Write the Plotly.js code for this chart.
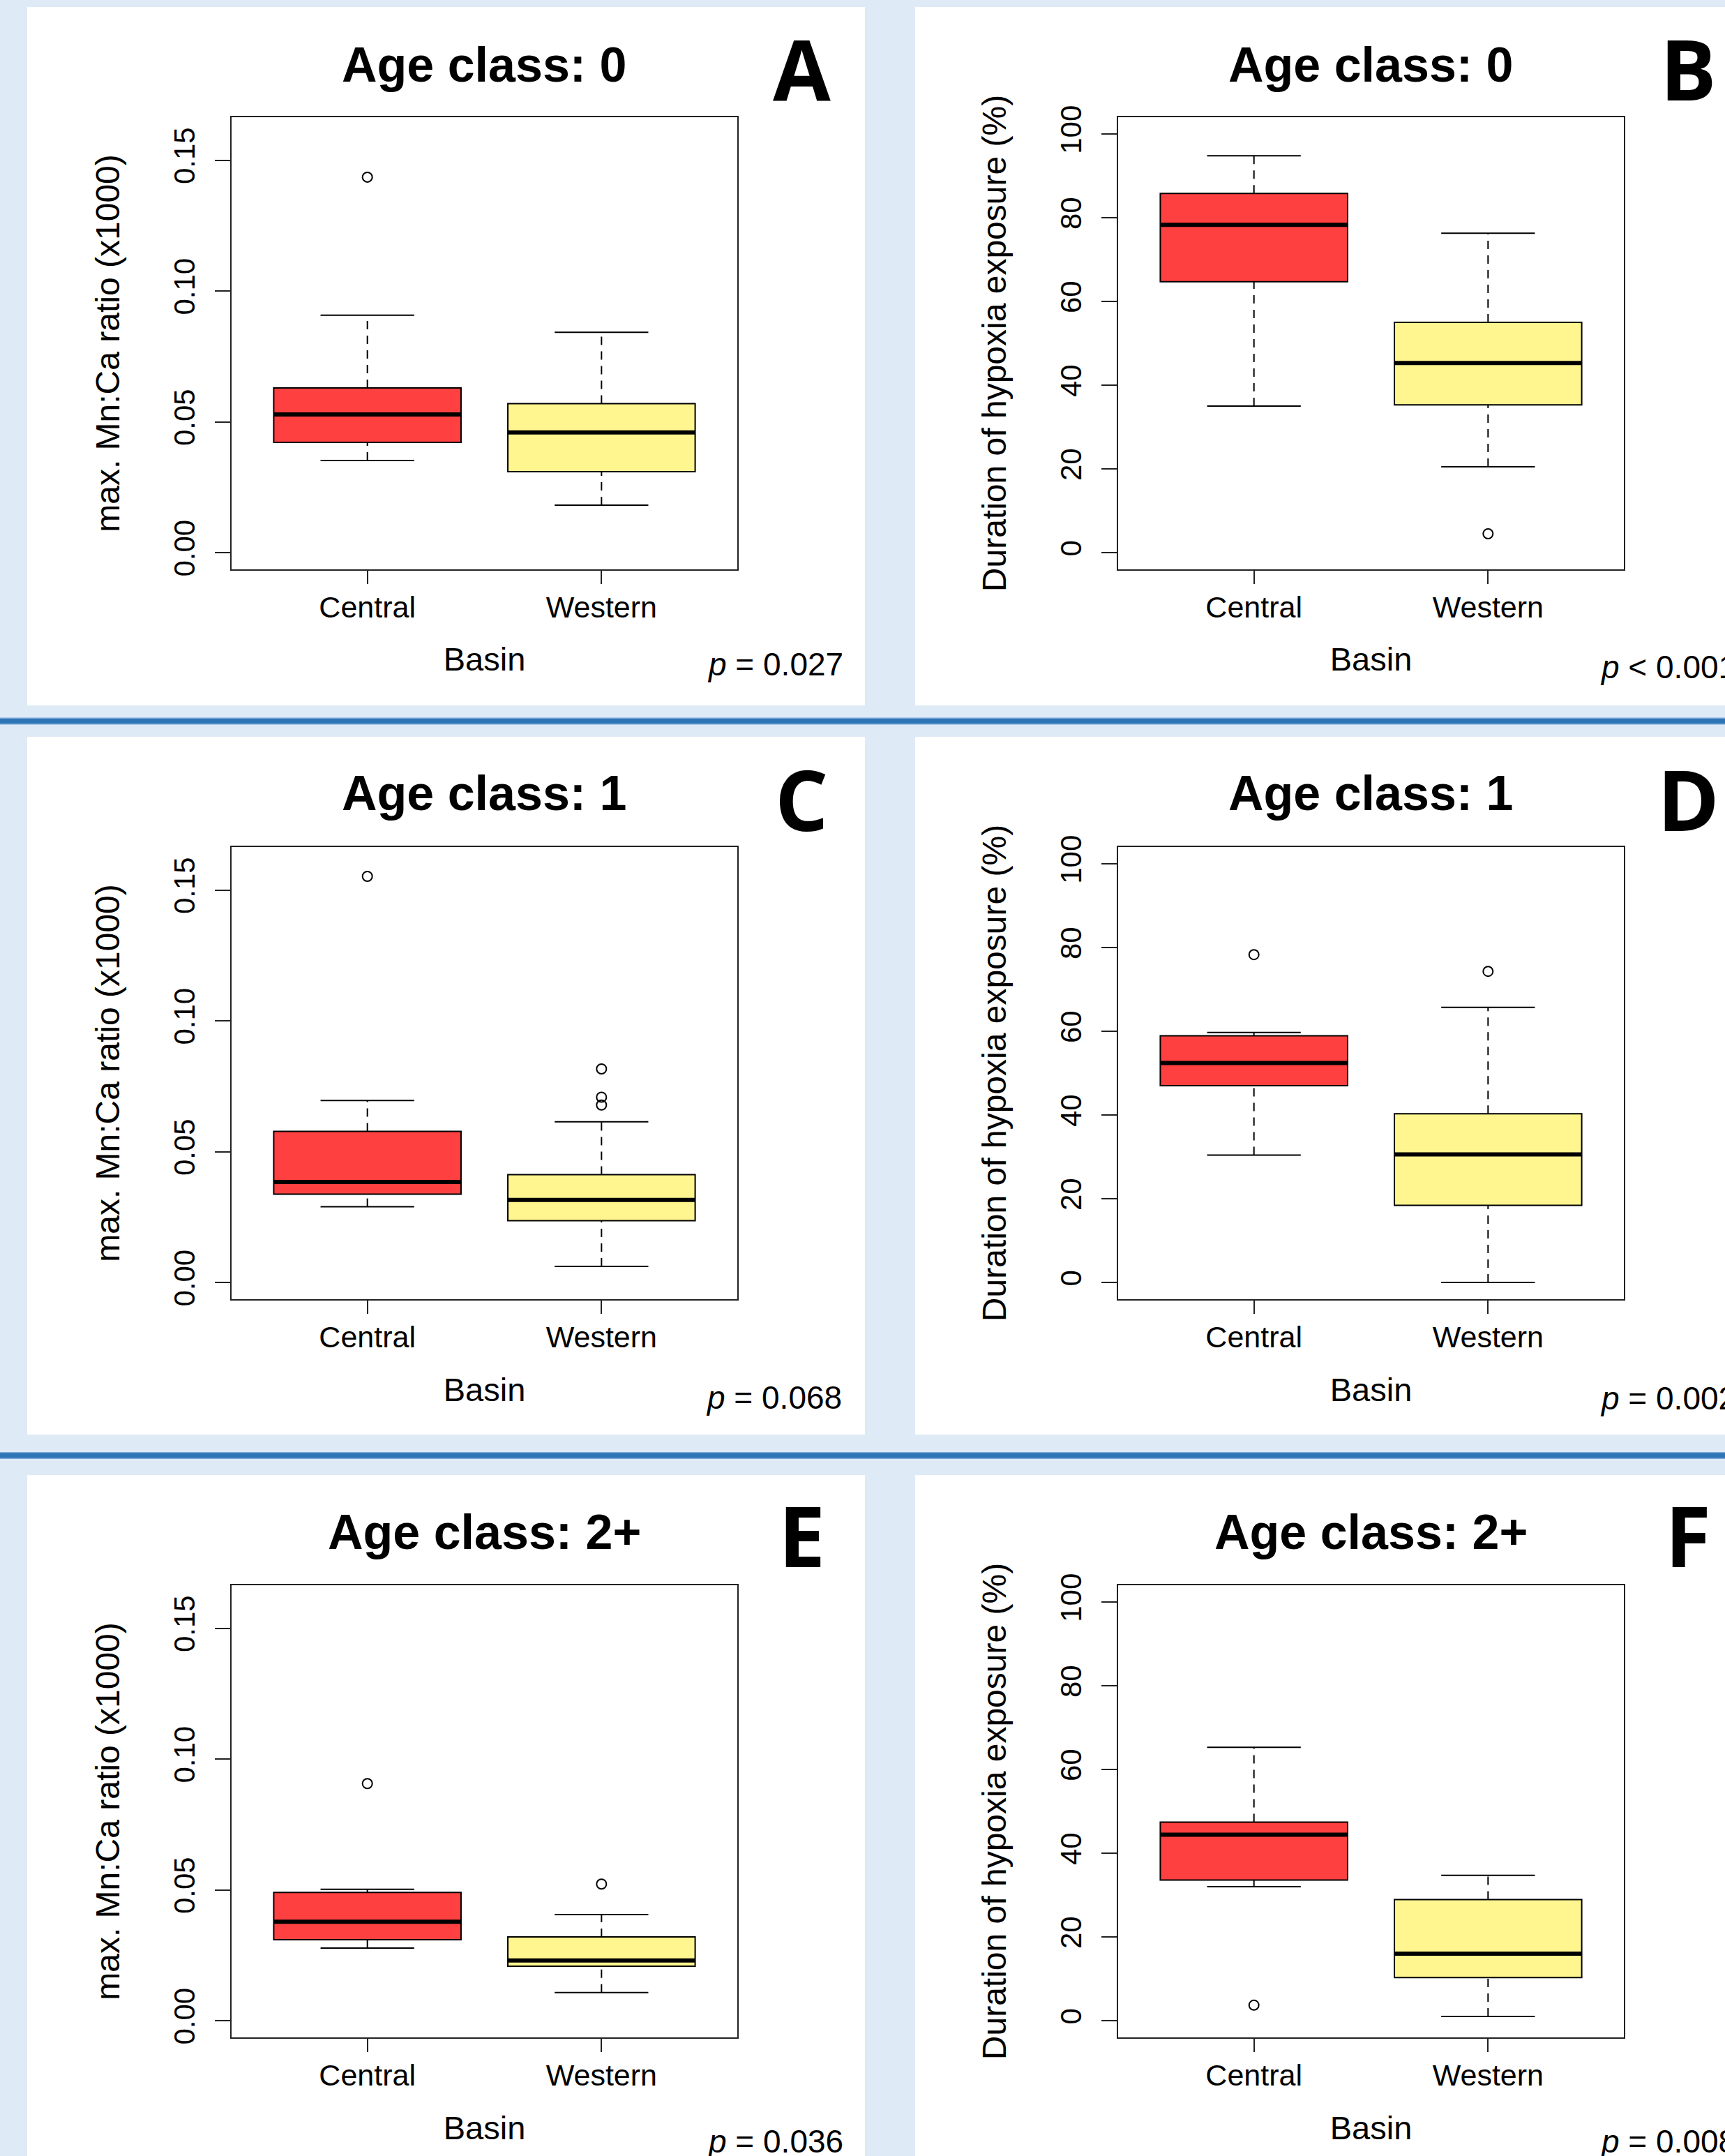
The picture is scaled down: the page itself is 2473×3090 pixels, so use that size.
<!DOCTYPE html>
<html><head><meta charset="utf-8">
<script src="https://cdn.plot.ly/plotly-3.0.1.min.js"></script>
<style>html,body{margin:0;padding:0;background:#deeaf6;} #chart{width:2473px;height:3090px;}</style>
</head><body><div id="chart"></div>
<script>
// ---------------- data ----------------
const basins = ['Central', 'Western'];
const statOrder = ['lower whisker', 'Q1', 'median', 'Q3', 'upper whisker'];
const ageClasses = ['0', '1', '2+'];
const panelLetters = ['A', 'B', 'C', 'D', 'E', 'F'];
const pValues = ['= 0.027', '< 0.001', '= 0.068', '= 0.002', '= 0.036', '= 0.008'];

// max. Mn:Ca ratio (x1000)
const mnca_age0_central = [0.0352, 0.0421, 0.0528, 0.0629, 0.0907];
const mnca_age0_western = [0.0181, 0.0309, 0.0459, 0.0569, 0.0842];
const mnca_age0_central_out = [0.1435];
const mnca_age0_western_out = [];
const mnca_age1_central = [0.0289, 0.0337, 0.0384, 0.0577, 0.0695];
const mnca_age1_western = [0.0061, 0.0236, 0.0315, 0.0412, 0.0614];
const mnca_age1_central_out = [0.1552];
const mnca_age1_western_out = [0.0816, 0.0708, 0.0678];
const mnca_age2_central = [0.0277, 0.0309, 0.0378, 0.0490, 0.0502];
const mnca_age2_western = [0.0107, 0.0208, 0.0230, 0.0320, 0.0405];
const mnca_age2_central_out = [0.0906];
const mnca_age2_western_out = [0.0522];

// Duration of hypoxia exposure (%)
const hyp_age0_central = [35.0, 64.7, 78.3, 85.8, 94.8];
const hyp_age0_western = [20.5, 35.3, 45.3, 55.0, 76.3];
const hyp_age0_central_out = [];
const hyp_age0_western_out = [4.5];
const hyp_age1_central = [30.4, 47.0, 52.4, 58.9, 59.7];
const hyp_age1_western = [0.0, 18.4, 30.6, 40.3, 65.7];
const hyp_age1_central_out = [78.3];
const hyp_age1_western_out = [74.3];
const hyp_age2_central = [32.0, 33.6, 44.4, 47.4, 65.3];
const hyp_age2_western = [1.0, 10.3, 16.0, 28.9, 34.7];
const hyp_age2_central_out = [3.7];
const hyp_age2_western_out = [];

const mncaTicks = [0, 0.05, 0.10, 0.15];
const mncaTickLabels = ['0.00', '0.05', '0.10', '0.15'];
const mncaLimits = [0, 0.16];
const hypTicks = [0, 20, 40, 60, 80, 100];
const hypTickLabels = ['0', '20', '40', '60', '80', '100'];
const hypLimits = [0, 100];

const mncaTitle = 'max. Mn:Ca ratio (x1000)';
const hypTitle = 'Duration of hypoxia exposure (%)';
const xTitle = 'Basin';

// ---------------- layout / style ----------------
const W = 2473, H = 3090;
const FONT = 'Liberation Sans, Arial, Helvetica, sans-serif';
const LETTER_FONT = 'Open Sans, DejaVu Sans, sans-serif';
const boxColors = ['#FF4040', '#FFF68F'];
const BOXWEX = 0.8, STAPLE = 0.4;
const colLeft = [332, 1603];
const plotW = 725;
const rowTop = [168, 1214, 2272];
const rowBot = [816, 1862, 2920];
const titleY = [93, 1137, 2196];
const letterY = [97, 1144, 2199];
const pY = [[952, 956], [2003, 2004], [3069, 3069]];
const pX = [[1012, 2292], [1010, 2292], [1012, 2292]];
const panelRects = { x: [[39, 1240], [1312, 2480]], y: [[10, 1011], [1056, 2056], [2114, 3100]] };
const sepY = [1033.5, 2086];

const px2x = p => p / W;
const px2y = p => 1 - p / H;

function rExtend(lim) { const d = (lim[1] - lim[0]) * 0.04; return [lim[0] - d, lim[1] + d]; }

const panels = [
  { c: mnca_age0_central, w: mnca_age0_western, co: mnca_age0_central_out, wo: mnca_age0_western_out, kind: 'mnca', age: 0 },
  { c: hyp_age0_central, w: hyp_age0_western, co: hyp_age0_central_out, wo: hyp_age0_western_out, kind: 'hyp', age: 0 },
  { c: mnca_age1_central, w: mnca_age1_western, co: mnca_age1_central_out, wo: mnca_age1_western_out, kind: 'mnca', age: 1 },
  { c: hyp_age1_central, w: hyp_age1_western, co: hyp_age1_central_out, wo: hyp_age1_western_out, kind: 'hyp', age: 1 },
  { c: mnca_age2_central, w: mnca_age2_western, co: mnca_age2_central_out, wo: mnca_age2_western_out, kind: 'mnca', age: 2 },
  { c: hyp_age2_central, w: hyp_age2_western, co: hyp_age2_central_out, wo: hyp_age2_western_out, kind: 'hyp', age: 2 }
];

const traces = [];
const lineTraces = [];
const layout = {
  width: W, height: H,
  margin: { l: 0, r: 0, t: 0, b: 0, pad: 0 },
  paper_bgcolor: '#deeaf6',
  plot_bgcolor: '#ffffff',
  showlegend: false,
  boxmode: 'overlay',
  font: { family: FONT, color: '#000' },
  shapes: [],
  annotations: []
};

// white panels
panelRects.y.forEach(yy => panelRects.x.forEach(xx => {
  layout.shapes.push({ type: 'rect', xref: 'paper', yref: 'paper', layer: 'below',
    x0: px2x(xx[0]), x1: px2x(xx[1]), y0: px2y(yy[1]), y1: px2y(yy[0]),
    fillcolor: '#ffffff', line: { width: 0 } });
}));
// blue separators
sepY.forEach(y => {
  layout.shapes.push({ type: 'line', xref: 'paper', yref: 'paper', layer: 'below',
    x0: 0, x1: 1, y0: px2y(y), y1: px2y(y), line: { color: '#7fa9d8', width: 10 } });
  layout.shapes.push({ type: 'line', xref: 'paper', yref: 'paper', layer: 'below',
    x0: 0, x1: 1, y0: px2y(y), y1: px2y(y), line: { color: '#2e75b6', width: 7 } });
});

panels.forEach((p, k) => {
  const row = Math.floor(k / 2), col = k % 2;
  const s = k === 0 ? '' : String(k + 1);
  const xa = 'x' + s, ya = 'y' + s;
  const groups = [p.c, p.w], outs = [p.co, p.wo];
  groups.forEach((v, gi) => {
    const xi = gi + 1;
    traces.push({
      type: 'box', xaxis: xa, yaxis: ya, name: basins[gi],
      x: [xi], q1: [v[1]], median: [v[2]], q3: [v[3]],
      lowerfence: [v[1]], upperfence: [v[3]],
      width: BOXWEX, whiskerwidth: 0, boxpoints: false,
      fillcolor: boxColors[gi], line: { color: '#000', width: 2 },
      hoverinfo: 'skip'
    });
    // whiskers (dashed)
    lineTraces.push({ type: 'scatter', mode: 'lines', xaxis: xa, yaxis: ya,
      x: [xi, xi, null, xi, xi], y: [v[0], v[1], null, v[3], v[4]],
      line: { color: '#000', width: 2, dash: '12px,9px' }, hoverinfo: 'skip' });
    // staples
    lineTraces.push({ type: 'scatter', mode: 'lines', xaxis: xa, yaxis: ya,
      x: [xi - STAPLE / 2, xi + STAPLE / 2, null, xi - STAPLE / 2, xi + STAPLE / 2],
      y: [v[0], v[0], null, v[4], v[4]],
      line: { color: '#000', width: 2 }, hoverinfo: 'skip' });
    // median
    lineTraces.push({ type: 'scatter', mode: 'lines', xaxis: xa, yaxis: ya,
      x: [xi - BOXWEX / 2, xi + BOXWEX / 2], y: [v[2], v[2]],
      line: { color: '#000', width: 6 }, hoverinfo: 'skip' });
    // outliers
    if (outs[gi].length) {
      lineTraces.push({ type: 'scatter', mode: 'markers', xaxis: xa, yaxis: ya,
        x: outs[gi].map(() => xi), y: outs[gi],
        marker: { symbol: 'circle-open', size: 14, color: '#000', line: { width: 2 } }, hoverinfo: 'skip' });
    }
  });

  const isM = p.kind === 'mnca';
  const left = colLeft[col];
  layout['xaxis' + s] = {
    domain: [px2x(left), px2x(left + plotW)], anchor: ya,
    range: [0.42, 2.58], tickmode: 'array', tickvals: [1, 2], ticktext: basins,
    ticks: 'outside', ticklen: 19, tickwidth: 2, tickcolor: '#222',
    showline: true, mirror: true, linewidth: 2, linecolor: '#222',
    showgrid: false, zeroline: false, fixedrange: true,
    tickfont: { family: FONT, size: 43, color: '#000' }, ticklabelstandoff: -4,
    title: { text: xTitle, font: { family: FONT, size: 47, color: '#000' }, standoff: 36 }
  };
  layout['yaxis' + s] = {
    domain: [px2y(rowBot[row]), px2y(rowTop[row])], anchor: xa,
    range: rExtend(isM ? mncaLimits : hypLimits),
    tickmode: 'array', tickvals: isM ? mncaTicks : hypTicks, ticktext: isM ? mncaTickLabels : hypTickLabels,
    tickangle: -90,
    ticks: 'outside', ticklen: 22, tickwidth: 2, tickcolor: '#222',
    showline: true, mirror: true, linewidth: 2, linecolor: '#222',
    showgrid: false, zeroline: false, fixedrange: true,
    tickfont: { family: FONT, size: 42, color: '#000' }, ticklabelstandoff: 12,
    title: { text: isM ? mncaTitle : hypTitle, font: { family: FONT, size: 48, color: '#000' }, standoff: 54 }
  };

  // subplot title
  layout.annotations.push({ xref: 'paper', yref: 'paper', showarrow: false,
    x: px2x(left + plotW / 2), y: px2y(titleY[row]), xanchor: 'center', yanchor: 'middle',
    text: '<b>Age class: ' + ageClasses[p.age] + '</b>', font: { family: FONT, size: 70, color: '#000' } });
  // panel letter
  layout.annotations.push({ xref: 'paper', yref: 'paper', showarrow: false,
    x: px2x(left + 817), y: px2y(letterY[row]), xanchor: 'center', yanchor: 'middle',
    text: '<b>' + panelLetters[k] + '</b>', font: { family: LETTER_FONT, size: 120, color: '#000' } });
  // p-value
  layout.annotations.push({ xref: 'paper', yref: 'paper', showarrow: false,
    x: px2x(pX[row][col]), y: px2y(pY[row][col]), xanchor: 'left', yanchor: 'middle',
    text: '<i>p</i> ' + pValues[k], font: { family: FONT, size: 46, color: '#000' } });
});

Plotly.newPlot('chart', traces.concat(lineTraces), layout, { staticPlot: true, displayModeBar: false });
</script>
</body></html>
